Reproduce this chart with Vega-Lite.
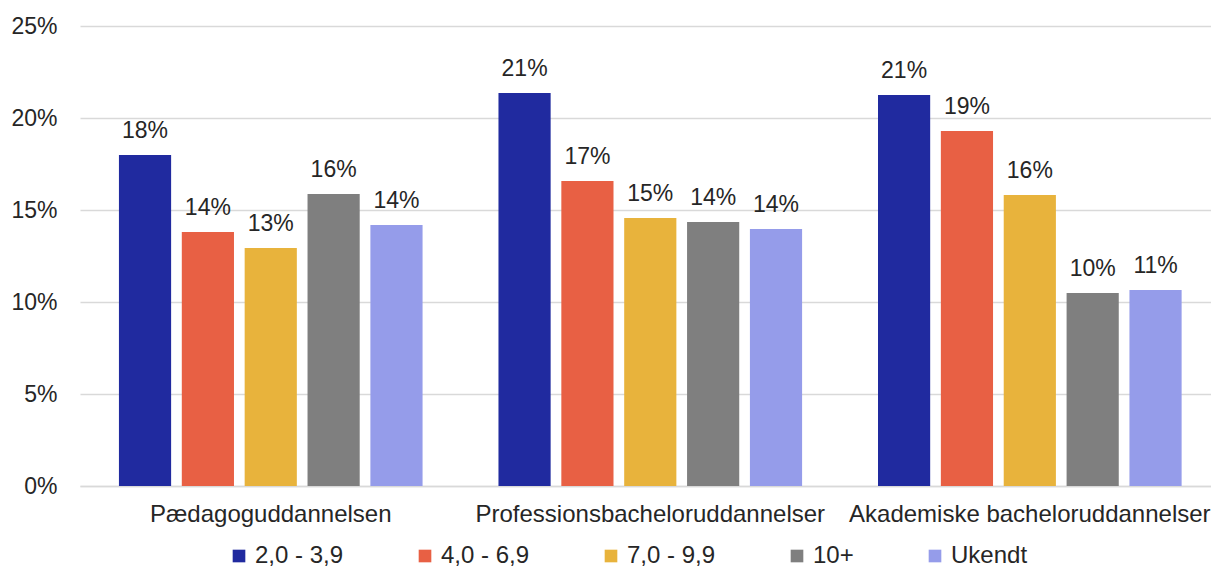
{
  "$schema": "https://vega.github.io/schema/vega-lite/v6.json",
  "width": 1131,
  "height": 460,
  "autosize": {"type": "none"},
  "padding": {"left": 80, "top": 26, "right": 0, "bottom": 81},
  "background": "white",
  "config": {
    "view": {"stroke": null},
    "font": "Liberation Sans",
    "text": {"font": "Liberation Sans"}
  },
  "data": {
    "values": [
      {"group": "Pædagoguddannelsen", "series": "2,0 - 3,9", "value": 0.1799},
      {"group": "Pædagoguddannelsen", "series": "4,0 - 6,9", "value": 0.138},
      {"group": "Pædagoguddannelsen", "series": "7,0 - 9,9", "value": 0.1293},
      {"group": "Pædagoguddannelsen", "series": "10+", "value": 0.1587},
      {"group": "Pædagoguddannelsen", "series": "Ukendt", "value": 0.1418},
      {"group": "Professionsbacheloruddannelser", "series": "2,0 - 3,9", "value": 0.2136},
      {"group": "Professionsbacheloruddannelser", "series": "4,0 - 6,9", "value": 0.1658},
      {"group": "Professionsbacheloruddannelser", "series": "7,0 - 9,9", "value": 0.1457},
      {"group": "Professionsbacheloruddannelser", "series": "10+", "value": 0.1435},
      {"group": "Professionsbacheloruddannelser", "series": "Ukendt", "value": 0.1397},
      {"group": "Akademiske bacheloruddannelser", "series": "2,0 - 3,9", "value": 0.2125},
      {"group": "Akademiske bacheloruddannelser", "series": "4,0 - 6,9", "value": 0.1929},
      {"group": "Akademiske bacheloruddannelser", "series": "7,0 - 9,9", "value": 0.1582},
      {"group": "Akademiske bacheloruddannelser", "series": "10+", "value": 0.1049},
      {"group": "Akademiske bacheloruddannelser", "series": "Ukendt", "value": 0.1065}
    ]
  },
  "encoding": {
    "x": {
      "field": "group",
      "type": "nominal",
      "sort": null,
      "title": null,
      "scale": {"paddingInner": 0.2, "paddingOuter": 0.09, "align": 0.57},
      "axis": {
        "labelAngle": 0,
        "labelFontSize": 24,
        "labelColor": "#262626",
        "labelPadding": 16,
        "labelLimit": 0,
        "labelOverlap": false,
        "ticks": false,
        "domainColor": "#D9D9D9",
        "domainWidth": 1.5,
        "labelFont": "Liberation Sans"
      }
    },
    "xOffset": {
      "field": "series",
      "type": "nominal",
      "sort": ["2,0 - 3,9", "4,0 - 6,9", "7,0 - 9,9", "10+", "Ukendt"],
      "scale": {"paddingInner": 0.17, "paddingOuter": 0}
    },
    "y": {
      "field": "value",
      "type": "quantitative",
      "title": null,
      "scale": {"domain": [0, 0.25], "nice": false},
      "axis": {
        "values": [0, 0.05, 0.1, 0.15, 0.2, 0.25],
        "format": ".0%",
        "labelFontSize": 23,
        "labelColor": "#262626",
        "labelPadding": 23,
        "ticks": false,
        "domain": false,
        "gridColor": "#D9D9D9",
        "gridWidth": 1.5,
        "labelFont": "Liberation Sans"
      }
    }
  },
  "layer": [
    {
      "mark": {"type": "bar"},
      "encoding": {
        "color": {
          "field": "series",
          "type": "nominal",
          "sort": ["2,0 - 3,9", "4,0 - 6,9", "7,0 - 9,9", "10+", "Ukendt"],
          "scale": {
            "domain": ["2,0 - 3,9", "4,0 - 6,9", "7,0 - 9,9", "10+", "Ukendt"],
            "range": ["#202A9F", "#E86044", "#E8B33C", "#7F7F7F", "#959CEA"]
          },
          "legend": {
            "title": null,
            "orient": "none",
            "direction": "horizontal",
            "legendX": 147,
            "legendY": 518,
            "gridAlign": "none",
            "symbolType": "square",
            "symbolSize": 160,
            "symbolStrokeWidth": 0,
            "labelFontSize": 24,
            "labelColor": "#262626",
            "labelFont": "Liberation Sans",
            "labelOffset": 4,
            "labelLimit": 0,
            "columnPadding": 69
          }
        }
      }
    },
    {
      "mark": {"type": "text", "baseline": "alphabetic", "dy": -17, "fontSize": 23, "color": "#262626", "font": "Liberation Sans"},
      "encoding": {
        "text": {"field": "value", "type": "quantitative", "format": ".0%"}
      }
    }
  ]
}
